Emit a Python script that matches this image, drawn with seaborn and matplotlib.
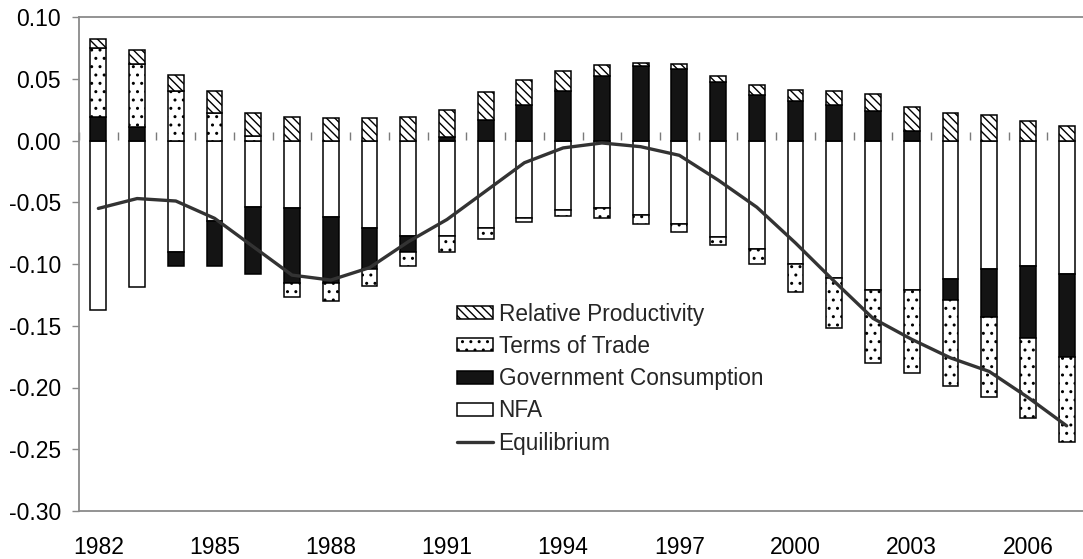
import numpy as np
import pandas as pd
import matplotlib
matplotlib.use("Agg")
import matplotlib.pyplot as plt
import seaborn as sns
from matplotlib.patches import Patch
from matplotlib.lines import Line2D
from matplotlib.ticker import FormatStrFormatter

# ---------------- data ----------------
years = [str(y) for y in range(1982, 2008)]
nfa = [-0.137, -0.119, -0.090, -0.065, -0.054, -0.055, -0.062, -0.071, -0.077, -0.077,
       -0.071, -0.063, -0.056, -0.055, -0.060, -0.068, -0.078, -0.088, -0.100, -0.111,
       -0.121, -0.121, -0.112, -0.104, -0.102, -0.108]
gov = [0.019, 0.011, -0.012, -0.037, -0.054, -0.060, -0.053, -0.033, -0.013, 0.003,
       0.017, 0.029, 0.040, 0.052, 0.060, 0.058, 0.047, 0.037, 0.032, 0.029,
       0.024, 0.008, -0.017, -0.039, -0.058, -0.067]
tot = [0.056, 0.051, 0.040, 0.022, 0.004, -0.012, -0.015, -0.014, -0.012, -0.013,
       -0.009, -0.003, -0.005, -0.008, -0.008, -0.006, -0.007, -0.012, -0.023, -0.041,
       -0.059, -0.067, -0.070, -0.065, -0.065, -0.069]
rp = [0.007, 0.011, 0.013, 0.018, 0.018, 0.019, 0.018, 0.018, 0.019, 0.022,
      0.022, 0.020, 0.016, 0.009, 0.003, 0.004, 0.005, 0.008, 0.009, 0.011,
      0.014, 0.019, 0.022, 0.021, 0.016, 0.012]
equilibrium = [-0.055, -0.047, -0.049, -0.063, -0.086, -0.109, -0.113, -0.103, -0.082, -0.064,
               -0.041, -0.018, -0.006, -0.002, -0.005, -0.012, -0.032, -0.054, -0.083, -0.114,
               -0.144, -0.161, -0.176, -0.187, -0.208, -0.231]
tick_years = ["1982", "1985", "1988", "1991", "1994", "1997", "2000", "2003", "2006"]
y_ticks = [-0.30, -0.25, -0.20, -0.15, -0.10, -0.05, 0.00, 0.05, 0.10]

# ---------------- style ----------------
sns.set_theme(style="white")
plt.rcParams["font.family"] = ["Liberation Sans", "DejaVu Sans"]
plt.rcParams["hatch.linewidth"] = 1.0

W, H = 1083, 559
fig = plt.figure(figsize=(W / 100, H / 100), dpi=100)
fig.patch.set_facecolor("white")
ax = fig.add_axes([79 / W, 48 / H, 1007 / W, 494 / H])
ax.set_facecolor("white")

components = [
    ("NFA", nfa, dict(color="white")),
    ("Government Consumption", gov, dict(color="#141414")),
    ("Terms of Trade", tot, dict(color="white", hatch="..")),
    ("Relative Productivity", rp, dict(color="white", hatch="\\\\\\\\")),
]

pos_base = np.zeros(len(years))
neg_base = np.zeros(len(years))
for name, vals, style in components:
    v = np.asarray(vals, dtype=float)
    bottom = np.where(v >= 0, pos_base, neg_base)
    df = pd.DataFrame({"year": years, "value": v})
    sns.barplot(data=df, x="year", y="value", order=years, bottom=bottom,
                width=0.41, edgecolor="black", linewidth=1.1, saturation=1,
                errorbar=None, ax=ax, zorder=3, **style)
    pos_base += np.where(v >= 0, v, 0)
    neg_base += np.where(v < 0, v, 0)

sns.lineplot(x=years, y=equilibrium, color="#333333", linewidth=2.4, ax=ax,
             zorder=5, sort=False)

ax.set_xlim(-0.5, 25.5)
ax.set_ylim(-0.30, 0.10)
ax.set_xlabel("")
ax.set_ylabel("")
ax.set_yticks(y_ticks)
ax.yaxis.set_major_formatter(FormatStrFormatter("%.2f"))
ax.set_xticks([years.index(t) for t in tick_years])
ax.set_xticklabels(tick_years)
ax.tick_params(axis="x", length=0, pad=18, labelsize=16.5, colors="black")
ax.tick_params(axis="y", length=5, width=1, color="#888888", pad=8,
               labelsize=16.5, labelcolor="black", left=True)

for s in ["left", "top", "bottom"]:
    ax.spines[s].set_color("#8a8a8a")
    ax.spines[s].set_linewidth(1.3)
ax.spines["right"].set_visible(False)

# zero line with category boundary ticks
zero_pos = (0 - (-0.30)) / 0.40
sec = ax.secondary_xaxis(zero_pos)
sec.set_xticks(np.arange(-0.5, 26, 1.0))
sec.set_xticklabels([])
sec.tick_params(axis="x", direction="out", length=6, width=1, color="#7a7a7a")
sec.spines["bottom"].set_color("#8a8a8a")
sec.spines["bottom"].set_linewidth(1.0)
for s in ["top", "left", "right"]:
    sec.spines[s].set_visible(False)

handles = [
    Patch(facecolor="white", edgecolor="black", hatch="\\\\\\\\", linewidth=1.1),
    Patch(facecolor="white", edgecolor="black", hatch="..", linewidth=1.1),
    Patch(facecolor="#141414", edgecolor="black", linewidth=1.1),
    Patch(facecolor="white", edgecolor="black", linewidth=1.1),
    Line2D([0], [0], color="#333333", linewidth=2.4),
]
labels = ["Relative Productivity", "Terms of Trade", "Government Consumption", "NFA", "Equilibrium"]
ax.legend(handles, labels, loc="upper left", bbox_to_anchor=(0.375, 0.422),
          frameon=False, fontsize=16.3, borderpad=0, borderaxespad=0,
          handlelength=1.6, handleheight=0.5, handletextpad=0.25,
          labelspacing=0.41)

fig.savefig("out.png", dpi=100)
